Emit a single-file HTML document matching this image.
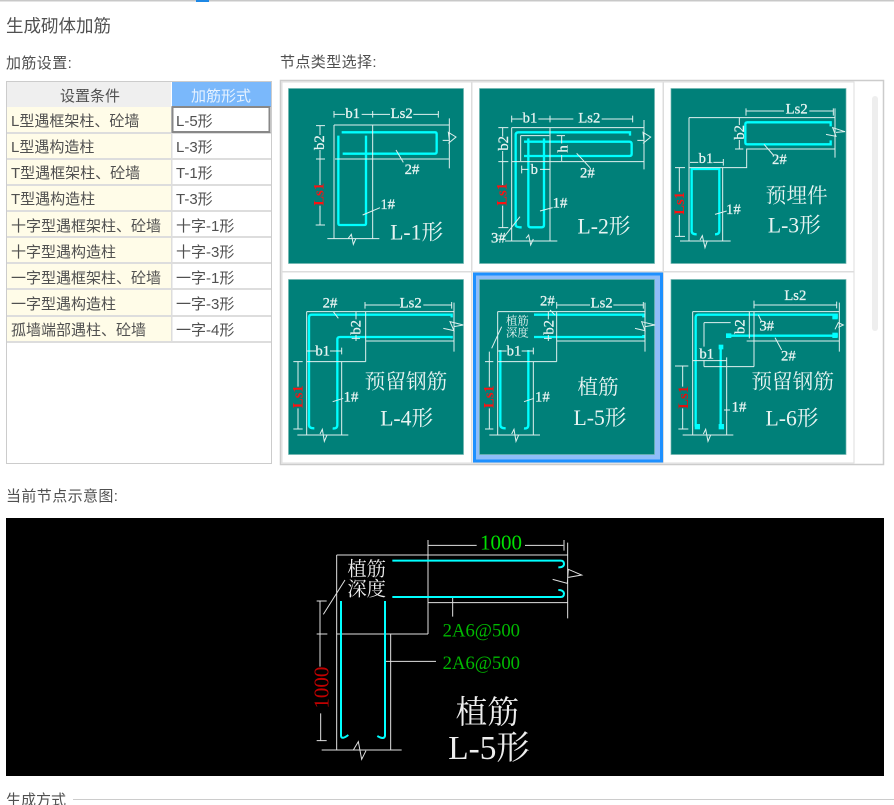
<!DOCTYPE html>
<html lang="zh"><head><meta charset="utf-8"><style>
html,body{margin:0;padding:0;background:#fff;width:894px;height:805px;overflow:hidden}
svg{display:block;position:absolute;left:0;top:0;filter:blur(.3px)}
.u{font-family:"Liberation Sans","Noto Sans CJK SC",sans-serif;font-size:15px;fill:#505050}
.w{fill:none;stroke:#dff0ee;stroke-width:3}
.c{fill:none;stroke:#00ffff;stroke-width:7}
.k{fill:none;stroke:#00ffff;stroke-width:6}
.g{fill:none;stroke:#d8d8d8;stroke-width:3}
.m{font-family:"Liberation Serif",serif;font-size:44px;fill:#e8f4f2;stroke:#e8f4f2;stroke-width:.8;text-anchor:middle;dominant-baseline:central}
.r{font-family:"Liberation Serif",serif;font-size:44px;font-weight:bold;fill:#ff1010;text-anchor:middle;dominant-baseline:central}
.s{font-family:"Liberation Serif","Noto Serif CJK SC",serif;font-size:62px;fill:#e8f4f2;text-anchor:middle;dominant-baseline:central}
.l{font-size:65px}
.h{font-size:34px}
.gt{font-family:"Liberation Serif",serif;fill:#00b800;font-size:58px;dominant-baseline:central}
</style></head><body>
<svg width="894" height="805" viewBox="0 0 894 805" xmlns="http://www.w3.org/2000/svg">
<rect x="0" y="0" width="894" height="1.5" fill="#c8c8c8"/>
<rect x="196" y="0" width="13" height="2" fill="#1e88e5"/>

<text class="u" x="6" y="32" style="font-size:17.5px">生成砌体加筋</text>
<text class="u" x="6" y="68" style="letter-spacing:.4px">加筋设置:</text>
<text class="u" x="280" y="67" style="letter-spacing:.4px">节点类型选择:</text>
<text class="u" x="6" y="501" style="letter-spacing:.4px">当前节点示意图:</text>
<text class="u" x="6" y="805">生成方式</text>
<rect x="73" y="799" width="821" height="1" fill="#ccc"/>

<!-- left table -->
<rect x="6.5" y="81.5" width="265" height="382" fill="#fff" stroke="#ccc"/>
<rect x="7" y="82" width="164" height="25" fill="#efefef"/>
<rect x="172" y="82" width="99" height="25" fill="#7ab8fb"/>
<rect x="7" y="107" width="164" height="235" fill="#fffce8"/>
<g fill="#ddd">
<rect x="7" y="132" width="264" height="2"/><rect x="7" y="158" width="264" height="2"/>
<rect x="7" y="184" width="264" height="2"/><rect x="7" y="210" width="264" height="2"/>
<rect x="7" y="236" width="264" height="2"/><rect x="7" y="262" width="264" height="2"/>
<rect x="7" y="288" width="264" height="2"/><rect x="7" y="315" width="264" height="2"/>
<rect x="7" y="341" width="264" height="2"/><rect x="171" y="107" width="1.5" height="235"/>
</g>
<rect x="172.5" y="107" width="97" height="25" fill="#fff" stroke="#888" stroke-width="2"/>
<text class="u" x="90" y="101" text-anchor="middle">设置条件</text>
<text class="u" x="221" y="101" text-anchor="middle" style="fill:#e6f2ff">加筋形式</text>
<g class="u">
<text x="11" y="126">L型遇框架柱、砼墙</text><text x="176" y="126">L-5形</text>
<text x="11" y="152">L型遇构造柱</text><text x="176" y="152">L-3形</text>
<text x="11" y="178">T型遇框架柱、砼墙</text><text x="176" y="178">T-1形</text>
<text x="11" y="204">T型遇构造柱</text><text x="176" y="204">T-3形</text>
<text x="11" y="231">十字型遇框架柱、砼墙</text><text x="176" y="231">十字-1形</text>
<text x="11" y="257">十字型遇构造柱</text><text x="176" y="257">十字-3形</text>
<text x="11" y="283">一字型遇框架柱、砼墙</text><text x="176" y="283">一字-1形</text>
<text x="11" y="309">一字型遇构造柱</text><text x="176" y="309">一字-3形</text>
<text x="11" y="335">孤墙端部遇柱、砼墙</text><text x="176" y="335">一字-4形</text>
</g>

<!-- right grid -->
<rect x="280.5" y="80.5" width="603" height="384" fill="#fff" stroke="#ccc" stroke-width="1.5"/>
<rect x="282" y="82" width="572" height="381" fill="#fff" stroke="#ddd"/>
<rect x="471" y="82" width="1.5" height="381" fill="#ddd"/>
<rect x="662.5" y="82" width="1.5" height="381" fill="#ddd"/>
<rect x="282" y="271" width="572" height="1.5" fill="#ddd"/>
<rect x="872" y="96" width="6" height="235" rx="3" fill="#eee"/>
<rect x="473" y="272.5" width="190" height="190" fill="#1e90ff"/>
<rect x="476" y="275.5" width="184" height="184" fill="#8fbdf8"/>
<g fill="#008079" stroke="#6fb5b0" stroke-width="0.7">
<rect x="288.5" y="88.5" width="175" height="175"/>
<rect x="479.5" y="88.5" width="175" height="175"/>
<rect x="671" y="88.5" width="175" height="175"/>
<rect x="288.5" y="279.5" width="175" height="175"/>
<rect x="479.5" y="279.5" width="175" height="175"/>
<rect x="671" y="279.5" width="175" height="175"/>
</g>

<!-- T1 + T2 -->
<g transform="translate(280,75) scale(.33333)">
<path class="c" d="M185 172H465Q470 172 470 177V230Q470 236 465 236H188M175 182V445Q175 450 180 450H253Q258 450 258 445V182"/>
<path class="w" d="M162 150H508M162 150V490M278 150V490M165 252H508M142 491H298M508 130V280M205 490L214 478L220 508L228 490M488 196H508L505 172L528 186L505 205M162 108V128M162 118H195M245 118H330M278 108V128M400 118H475M475 108V128M108 152H135M120 152V180M120 225V330M108 252H135M120 392V450M107 450H135M348 225L370 262M248 420L300 398"/>
<text class="m" x="218" y="117">b1</text><text class="m" x="365" y="117">Ls2</text>
<text class="m" transform="rotate(-90 120 203)" x="120" y="203">b2</text>
<text class="r" transform="rotate(-90 118 358)" x="118" y="358">Ls1</text>
<text class="m" x="396" y="285">2#</text><text class="m" x="323" y="390">1#</text>
<text class="s l" x="410" y="472">L-1形</text>

<path class="c" d="M1050 182V172H715Q707 172 707 180V450Q707 457 725 457M732 200H1048Q1055 200 1055 207V237Q1055 243 1048 243H732M745 190V450Q745 457 752 457H785Q792 457 792 450V190"/>
<path class="w" d="M695 158H1092M695 158V498M810 158V498M695 260H1092M675 498H832M1092 135V283M722 182H808M722 182V258M695 122V142M695 132H728M775 132H880M810 122V142M965 132H1058M1058 122V142M655 158H685M668 158V185M668 228V330M655 260H685M668 392V458M655 458H685M830 182H855M845 182V205M845 240V258M725 272V295M725 283H745M780 283H810M738 490L746 480L752 510L760 492M1072 196H1092L1089 172L1112 186L1089 205M720 425L665 495M780 408L818 398M890 235L930 278"/>
<text class="m" x="750" y="130">b1</text><text class="m" x="928" y="130">Ls2</text>
<text class="m" transform="rotate(-90 672 205)" x="672" y="205">b2</text>
<text class="r" transform="rotate(-90 668 358)" x="668" y="358">Ls1</text>
<text class="m" transform="rotate(-90 850 222)" x="850" y="222">h</text>
<text class="m" x="763" y="285">b</text>
<text class="m" x="655" y="490">3#</text><text class="m" x="840" y="385">1#</text><text class="m" x="922" y="295">2#</text>
<text class="s l" x="972" y="455">L-2形</text>
</g>

<!-- T3 -->
<g transform="translate(580,75) scale(.33333)">
<path class="c" d="M752 154V142H502Q496 142 496 148V202Q496 208 502 208H752V196M350 478Q335 478 335 468V282H418V468Q418 478 405 478"/>
<path class="w" d="M327 128H500M500 128H765M327 128V498M428 278V498M327 278H500V222H765M765 100V248M300 498H452M498 100V122M498 108H612M688 108H760M760 100V122M465 128H490M478 128V150M478 195V222M465 222H490M330 262H355M400 262H430M430 252V272M285 278H315M298 278V350M298 420V484M285 484H315M360 495L367 482L375 518L382 497M738 178L768 184L758 158L795 170L768 172M552 208L580 240M405 418L440 408"/>
<text class="m" x="650" y="104">Ls2</text><text class="m" x="378" y="252">b1</text>
<text class="m" transform="rotate(-90 480 172)" x="480" y="172">b2</text>
<text class="r" transform="rotate(-90 300 385)" x="300" y="385">Ls1</text>
<text class="m" x="598" y="255">2#</text><text class="m" x="460" y="405">1#</text>
<text class="s" x="650" y="365">预埋件</text><text class="s l" x="643" y="452">L-3形</text>
</g>

<!-- T4 + T5 -->
<g transform="translate(280,270) scale(.33333)">
<path class="c" d="M515 142V134H95Q87 134 87 142V465Q87 475 103 475M515 205V201H180Q172 201 172 208V465Q172 477 158 475"/>
<path class="w" d="M80 125H522M80 125V495M185 275V495M80 275H257M257 125V275M257 213H522M522 98V245M52 495H205M255 96V116M255 105H360M430 105H515M515 96V116M160 125L175 145M228 125V148M228 195V213M215 205H240M80 243H108M150 243H185M185 233V253M40 275H68M54 275V350M54 415V477M40 477H68M158 395L190 385M120 492L127 478L133 514L141 495M490 175L522 182L510 155L550 165L522 170"/>
<text class="m" x="392" y="100">Ls2</text><text class="m" x="150" y="100">2#</text><text class="m" x="128" y="245">b1</text>
<text class="m" transform="rotate(-90 230 172)" x="230" y="172">b2</text>
<text class="r" transform="rotate(-90 55 380)" x="55" y="380">Ls1</text>
<text class="m" x="213" y="382">1#</text>
<text class="s" x="378" y="337">预留钢筋</text><text class="s l" x="380" y="445">L-4形</text>

<path class="c" d="M762 134H1090V142M762 201H1090V195M661 240V465Q661 475 677 475M745 240V465Q745 477 732 475"/>
<path class="w" d="M653 125H1095M653 125V495M760 275V495M653 275H830M830 125V275M830 213H1095M1095 98V245M628 495H780M830 96V116M830 105H930M1000 105H1090M1090 96V116M810 120L825 135M805 125V148M805 195V213M792 205H815M653 243H680M725 243H760M760 233V253M615 275H640M628 245V350M628 415V477M615 477H640M732 395L762 385M665 170L635 235M695 492L702 478L708 514L716 495M1065 175L1095 182L1085 155L1125 165L1095 170"/>
<text class="m" x="965" y="100">Ls2</text><text class="m" x="802" y="95">2#</text><text class="m" x="702" y="245">b1</text>
<text class="m" transform="rotate(-90 808 172)" x="808" y="172">b2</text>
<text class="r" transform="rotate(-90 628 380)" x="628" y="380">Ls1</text>
<text class="m" x="787" y="382">1#</text>
<text class="s h" x="712" y="155">植筋</text><text class="s h" x="712" y="190">深度</text>
<text class="s" x="954" y="354">植筋</text><text class="s l" x="960" y="444">L-5形</text>
</g>

<!-- T6 -->
<g transform="translate(580,270) scale(.33333)">
<path class="c" d="M770 145V134H355Q347 134 347 142V470M440 197H770V190M422 225V470"/>
<g fill="#00ffff"><rect x="344" y="462" width="16" height="16"/><rect x="416" y="462" width="16" height="16"/><rect x="757" y="132" width="16" height="16"/><rect x="757" y="188" width="16" height="16"/><rect x="438" y="190" width="16" height="14"/><rect x="416" y="224" width="14" height="14"/></g>
<path class="w" d="M338 125H778M338 125V495M440 262V495M338 272H440M372 290H522M522 125V290M372 158H452M372 158V230M372 270V290M500 213H778M778 98V245M308 495H460M522 92V115M522 105H770M770 95V115M508 125V205M285 288H325M308 288V350M308 415V477M295 477H325M432 420H450M535 135L545 155M585 203L605 240M370 492L377 478L384 514L392 495M765 178L775 158L790 165L775 172"/>
<text class="m" x="646" y="78">Ls2</text><text class="m" x="380" y="253">b1</text>
<text class="m" transform="rotate(-90 482 170)" x="482" y="170">b2</text>
<text class="r" transform="rotate(-90 312 382)" x="312" y="382" style="fill:#e01010">Ls1</text>
<text class="m" x="477" y="412">1#</text><text class="m" x="560" y="170">3#</text><text class="m" x="625" y="260">2#</text>
<text class="s" x="638" y="337">预留钢筋</text><text class="s l" x="636" y="445">L-6形</text>
</g>

<!-- black panel -->
<rect x="6" y="518" width="878" height="258" fill="#000"/>
<g transform="translate(290,520) scale(.33333)">
<path class="g" d="M140 105H833M140 105V690M414 60V342M140 342H414M302 342V690M95 690H335M414 248H833M833 68V295M414 76H560M705 76H820M822 60V92M80 243H110M90 243V440M80 342H112M92 580V662M80 662H110M488 232V290M288 424H438M165 180L100 283M190 690L205 665L215 718L228 692M788 178L832 190L835 148L875 165L835 172" style="stroke:#e0e0e0"/>
<path class="k" d="M307 122H812Q822 122 822 132Q822 142 805 142M307 231H812Q822 231 822 220Q820 210 805 210M153 243V648Q155 660 175 645M285 243V648Q282 660 262 648"/>
<text class="gt" x="633" y="68" text-anchor="middle" style="fill:#00e000;font-size:63px">1000</text>
<text class="gt" transform="rotate(-90 95 503)" x="95" y="503" text-anchor="middle" style="fill:#c00000;font-size:63px">1000</text>
<text class="gt" x="458" y="333" textLength="232" lengthAdjust="spacingAndGlyphs">2A6@500</text>
<text class="gt" x="458" y="431" textLength="232" lengthAdjust="spacingAndGlyphs">2A6@500</text>
<text class="s" x="230" y="150" style="font-size:58px;fill:#eee">植筋</text>
<text class="s" x="230" y="210" style="font-size:58px;fill:#eee">深度</text>
<text class="s" x="592" y="578" style="font-size:95px;fill:#eee">植筋</text>
<text class="s" x="597" y="685" style="font-size:100px;fill:#eee">L-5形</text>
</g>
</svg>
</body></html>
